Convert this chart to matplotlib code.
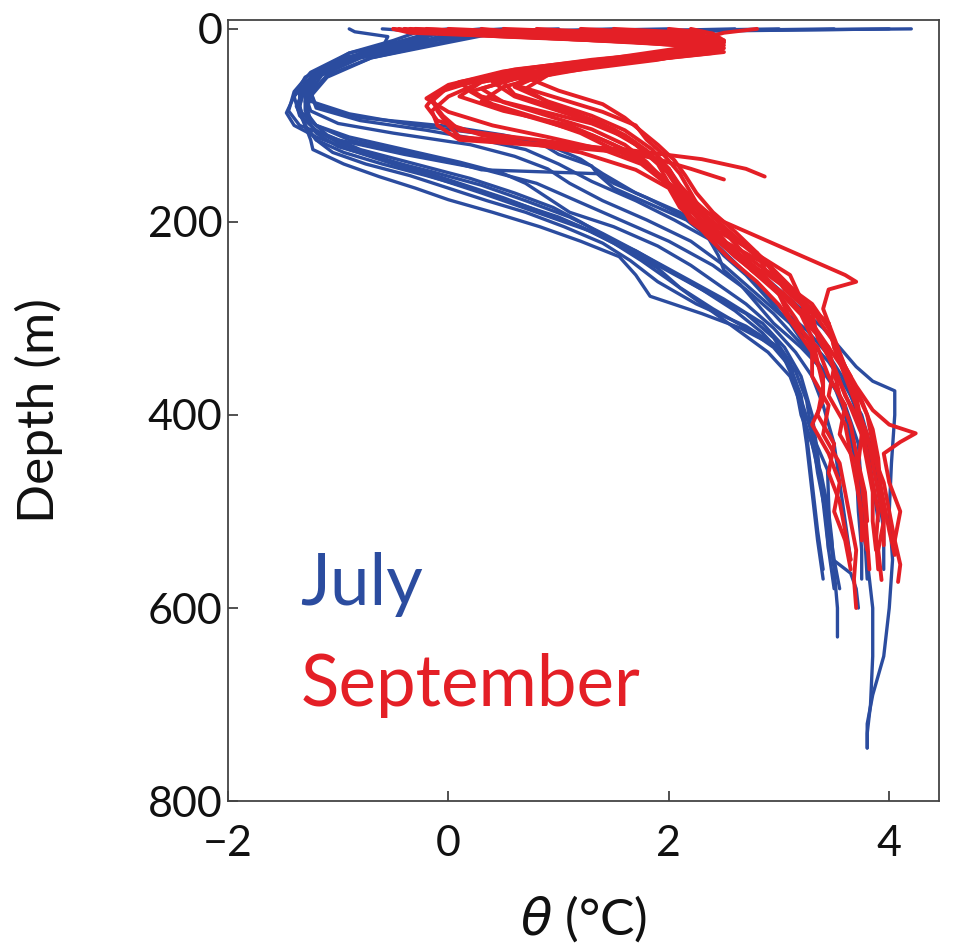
import matplotlib
matplotlib.use("Agg")
import matplotlib.pyplot as plt

# ---------------- data: July profiles (depth m, potential temperature degC) ----------------
july_depth = [
    [0, 2, 6, 15, 30, 45, 60, 75, 88, 100, 110, 120, 135, 150, 170, 190, 210, 230, 250, 270, 290, 310, 330, 350, 365, 375, 400, 450, 500, 550, 600, 650, 690, 720, 745],
    [0, 4, 12, 25, 45, 65, 85, 100, 115, 130, 145, 160, 180, 200, 220, 245, 270, 295, 320, 345, 370, 400, 450, 500, 550, 600, 650, 700, 730, 745],
    [0, 3, 8, 20, 40, 60, 80, 100, 115, 125, 140, 153, 165, 177, 190, 205, 220, 236, 255, 277, 295, 310, 319, 330, 355, 384, 420, 457, 490, 523, 560, 600, 630],
    [0, 6, 15, 30, 50, 75, 95, 110, 125, 140, 155, 170, 185, 200, 220, 245, 270, 295, 320, 345, 370, 400, 430, 460, 500, 530, 550, 564, 580, 600],
    [0, 5, 15, 30, 50, 70, 87, 100, 112, 125, 140, 155, 170, 190, 210, 230, 255, 280, 305, 330, 360, 400, 440, 490, 540, 580],
    [0, 5, 15, 30, 48, 65, 80, 92, 101, 110, 118, 130, 142, 150, 160, 175, 198, 215, 235, 250, 265, 285, 305, 330, 360, 390, 430, 480, 530, 570],
    [0, 4, 12, 25, 45, 65, 85, 100, 115, 130, 140, 146, 150, 165, 180, 198, 215, 235, 255, 280, 305, 330, 355, 380, 410, 450, 500, 540, 570],
    [0, 5, 15, 35, 55, 80, 100, 115, 128, 140, 152, 165, 180, 195, 210, 228, 248, 268, 290, 310, 330, 350, 380, 420, 470, 520, 560],
    [0, 3, 10, 25, 45, 65, 85, 100, 112, 125, 138, 150, 160, 175, 190, 205, 225, 245, 265, 285, 310, 335, 360, 390, 430, 470, 510, 550],
    [0, 5, 15, 30, 50, 70, 90, 105, 118, 130, 145, 160, 175, 190, 205, 222, 240, 260, 285, 310, 335, 360, 390, 430, 480, 530, 570],
    [0, 4, 12, 28, 48, 68, 85, 98, 108, 120, 132, 145, 160, 178, 198, 220, 245, 270, 295, 320, 345, 370, 400, 440, 480, 520, 560],
    [0, 5, 15, 30, 50, 70, 90, 108, 122, 135, 148, 162, 178, 195, 212, 230, 250, 270, 292, 315, 340, 365, 395, 430, 470, 510, 550, 580],
    [0, 3, 10, 22, 40, 60, 80, 100, 115, 128, 140, 152, 165, 178, 190, 205, 222, 240, 262, 285, 308, 330, 355, 385, 420, 460, 500, 540],
    [0, 5, 14, 30, 48, 66, 82, 95, 105, 115, 125, 140, 158, 178, 198, 220, 242, 265, 288, 312, 338, 365, 395, 430, 470, 510],
]
july_temp = [
    [4.2, 2.0, 0.2, -0.3, -0.9, -1.2, -1.3, -1.25, -0.9, -0.3, 0.4, 0.9, 1.2, 1.4, 1.7, 2.1, 2.4, 2.6, 2.8, 3.0, 3.2, 3.4, 3.55, 3.7, 3.85, 4.05, 4.05, 4.02, 4.0, 4.03, 4.0, 3.95, 3.85, 3.8, 3.8],
    [0.5, -0.1, -0.4, -0.9, -1.25, -1.4, -1.45, -1.35, -1.0, -0.4, 0.3, 0.8, 1.2, 1.6, 2.0, 2.4, 2.7, 2.95, 3.15, 3.35, 3.5, 3.6, 3.7, 3.75, 3.8, 3.85, 3.85, 3.83, 3.8, 3.8],
    [-0.9, -0.85, -0.55, -0.6, -1.1, -1.3, -1.38, -1.3, -1.25, -1.23, -0.95, -0.63, -0.3, 0.0, 0.4, 0.83, 1.2, 1.55, 1.7, 1.83, 2.3, 2.65, 2.8, 3.0, 3.1, 3.2, 3.3, 3.44, 3.45, 3.46, 3.5, 3.53, 3.53],
    [2.6, 0.3, -0.1, -0.8, -1.2, -1.3, -1.25, -1.1, -0.8, -0.3, 0.2, 0.6, 0.95, 1.2, 1.5, 1.9, 2.3, 2.7, 2.95, 3.1, 3.15, 3.2, 3.3, 3.38, 3.45, 3.48, 3.49, 3.65, 3.7, 3.72],
    [1.5, 0.0, -0.3, -0.9, -1.25, -1.4, -1.47, -1.4, -1.2, -0.9, -0.5, -0.1, 0.3, 0.8, 1.3, 1.7, 2.1, 2.5, 2.85, 3.05, 3.2, 3.3, 3.35, 3.4, 3.45, 3.5],
    [3.5, 0.1, -0.2, -0.8, -1.15, -1.25, -1.2, -0.8, 0.0, 0.5, 0.83, 1.0, 1.3, 1.35, 1.5, 1.8, 2.2, 2.35, 2.45, 2.5, 2.65, 2.8, 2.95, 3.2, 3.45, 3.6, 3.72, 3.75, 3.78, 3.8],
    [0.0, -0.3, -0.5, -0.9, -1.2, -1.35, -1.35, -1.2, -0.9, -0.3, 0.1, 0.3, 1.35, 1.5, 1.8, 2.16, 2.35, 2.5, 2.7, 2.9, 3.1, 3.25, 3.4, 3.55, 3.65, 3.7, 3.72, 3.75, 3.75],
    [0.3, -0.2, -0.5, -1.0, -1.3, -1.35, -1.3, -1.2, -0.95, -0.6, -0.2, 0.2, 0.6, 1.0, 1.3, 1.6, 1.9, 2.1, 2.4, 2.7, 2.95, 3.1, 3.2, 3.25, 3.3, 3.35, 3.4],
    [-0.6, -0.2, -0.3, -0.8, -1.15, -1.3, -1.3, -1.2, -0.9, -0.4, 0.1, 0.5, 0.7, 0.9, 1.1, 1.5, 1.9, 2.2, 2.45, 2.7, 2.95, 3.15, 3.3, 3.4, 3.5, 3.55, 3.6, 3.65],
    [1.0, -0.1, -0.4, -0.95, -1.3, -1.4, -1.35, -1.2, -1.0, -0.7, -0.3, 0.1, 0.5, 0.85, 1.2, 1.5, 1.75, 2.0, 2.3, 2.6, 2.9, 3.1, 3.2, 3.25, 3.3, 3.35, 3.4],
    [2.0, 0.2, -0.2, -0.8, -1.2, -1.3, -1.25, -1.0, -0.5, 0.2, 0.6, 0.9, 1.1, 1.4, 1.8, 2.2, 2.5, 2.75, 3.0, 3.25, 3.45, 3.6, 3.75, 3.85, 3.9, 3.95, 3.95],
    [3.0, 0.2, -0.1, -0.7, -1.1, -1.25, -1.3, -1.2, -1.0, -0.6, -0.15, 0.3, 0.7, 1.1, 1.4, 1.7, 2.0, 2.3, 2.6, 2.85, 3.05, 3.15, 3.2, 3.3, 3.38, 3.45, 3.5, 3.55],
    [-0.4, -0.3, -0.2, -0.7, -1.1, -1.3, -1.35, -1.3, -1.2, -1.05, -0.75, -0.35, 0.0, 0.35, 0.7, 1.05, 1.4, 1.65, 1.9, 2.25, 2.7, 3.0, 3.15, 3.25, 3.3, 3.35, 3.42, 3.45],
    [4.0, 0.4, 0.0, -0.7, -1.1, -1.25, -1.2, -0.8, -0.2, 0.3, 0.7, 1.0, 1.3, 1.7, 2.05, 2.4, 2.6, 2.8, 3.0, 3.25, 3.45, 3.6, 3.7, 3.8, 3.85, 3.9],
]

# ---------------- data: September profiles ----------------
sept_depth = [
    [0, 4, 10, 18, 28, 40, 55, 70, 85, 100, 112, 118, 125, 135, 145, 153],
    [0, 5, 12, 20, 30, 45, 60, 75, 90, 105, 115, 125, 135, 145, 156],
    [0, 3, 10, 18, 28, 40, 55, 70, 85, 100, 120, 140, 160, 180, 200, 225, 250, 275, 300, 330, 360, 390, 420, 450, 480, 510, 540, 570, 600],
    [0, 4, 12, 20, 30, 45, 60, 75, 90, 105, 125, 145, 165, 185, 205, 230, 255, 280, 305, 330, 360, 390, 420, 450, 480, 510, 540, 571],
    [0, 5, 12, 20, 32, 45, 60, 75, 90, 110, 130, 150, 170, 190, 210, 235, 260, 285, 310, 340, 370, 395, 410, 419, 428, 440, 470, 500, 530, 555, 573],
    [0, 4, 10, 18, 28, 40, 55, 70, 85, 100, 120, 140, 160, 180, 200, 220, 240, 255, 262, 270, 290, 320, 350, 380, 410, 440, 470, 500, 530, 560],
    [0, 3, 8, 15, 25, 38, 52, 66, 80, 95, 110, 128, 146, 165, 185, 205, 228, 250, 275, 300, 330, 360, 390, 420, 450, 480, 510, 540],
    [0, 5, 14, 22, 32, 45, 58, 72, 86, 100, 115, 130, 150, 170, 190, 210, 232, 255, 280, 305, 330, 355, 380, 410, 440, 470, 500, 530, 560],
    [0, 4, 10, 17, 26, 38, 52, 65, 78, 92, 108, 125, 140, 160, 180, 200, 220, 245, 270, 295, 320, 350, 380, 410, 440, 470, 500, 530],
    [0, 3, 10, 18, 28, 40, 55, 70, 85, 100, 115, 122, 130, 145, 165, 185, 205, 225, 250, 275, 300, 325, 350, 380, 410, 440, 470, 500, 530],
    [0, 5, 12, 20, 30, 42, 56, 70, 84, 98, 112, 128, 145, 162, 180, 200, 220, 240, 260, 280, 305, 330, 360, 390, 420, 450, 480, 510],
    [0, 4, 9, 16, 25, 36, 48, 62, 76, 90, 104, 118, 134, 150, 168, 186, 205, 225, 248, 272, 296, 320, 345, 370, 400, 430, 460, 490, 520, 550],
    [0, 3, 8, 14, 22, 32, 44, 58, 72, 86, 100, 112, 125, 140, 158, 176, 195, 215, 236, 258, 280, 305, 330, 355, 385, 415, 445, 475, 505, 535],
    [0, 4, 10, 18, 27, 38, 50, 64, 78, 92, 106, 120, 136, 152, 170, 190, 210, 232, 255, 278, 300, 325, 350, 375, 400, 430, 460, 490, 520, 545],
    [0, 3, 9, 16, 24, 35, 48, 62, 76, 90, 104, 120, 138, 156, 175, 195, 215, 238, 262, 286, 310, 335, 360, 385, 410, 440, 470, 500, 530, 560],
    [0, 5, 12, 20, 30, 42, 55, 68, 82, 96, 110, 126, 142, 160, 180, 200, 222, 245, 268, 292, 316, 340, 365, 392, 420, 450, 480, 510, 540],
]
sept_temp = [
    [-0.5, -0.35, 1.0, 2.3, 1.8, 0.8, 0.1, -0.15, -0.1, 0.0, 0.1, 0.7, 1.6, 2.3, 2.7, 2.87],
    [0.3, 0.8, 2.0, 2.5, 2.0, 0.7, 0.0, -0.15, -0.05, 0.1, 0.8, 1.5, 1.9, 2.2, 2.5],
    [-0.3, 0.5, 1.8, 2.4, 2.0, 1.0, 0.4, 0.6, 1.0, 1.4, 1.7, 1.9, 2.0, 2.1, 2.2, 2.5, 2.8, 3.0, 3.15, 3.3, 3.3, 3.45, 3.4, 3.55, 3.6, 3.65, 3.7, 3.68, 3.7],
    [1.5, 2.2, 2.5, 2.3, 1.7, 0.9, 0.6, 0.9, 1.3, 1.6, 1.85, 2.0, 2.1, 2.3, 2.5, 2.75, 3.1, 3.2, 3.45, 3.5, 3.6, 3.7, 3.8, 3.85, 3.9, 3.95, 3.9, 3.93],
    [-0.4, 0.2, 1.5, 2.4, 1.9, 1.0, 0.5, 0.3, 0.7, 1.3, 1.7, 1.9, 2.1, 2.3, 2.5, 2.7, 3.0, 3.3, 3.45, 3.55, 3.7, 3.85, 4.0, 4.24, 4.1, 3.95, 4.0, 4.1, 4.05, 4.1, 4.08],
    [2.8, 2.5, 2.3, 2.4, 2.0, 1.0, 0.3, 0.1, 0.5, 1.1, 1.5, 1.8, 2.0, 2.2, 2.5, 2.9, 3.3, 3.6, 3.7, 3.45, 3.4, 3.5, 3.6, 3.7, 3.75, 3.8, 3.85, 3.9, 3.88, 3.9],
    [-0.45, -0.3, 0.5, 2.0, 2.3, 1.2, 0.3, -0.1, -0.2, -0.1, 0.3, 1.2, 1.7, 2.0, 2.1, 2.3, 2.6, 2.75, 3.0, 3.1, 3.35, 3.45, 3.6, 3.55, 3.7, 3.72, 3.75, 3.8],
    [0.8, 1.6, 2.5, 2.3, 1.6, 0.8, 0.6, 1.0, 1.4, 1.7, 1.8, 1.95, 2.1, 2.2, 2.3, 2.45, 2.8, 2.9, 3.2, 3.25, 3.45, 3.5, 3.55, 3.65, 3.7, 3.75, 3.78, 3.8, 3.82],
    [-0.35, 0.2, 1.6, 2.5, 2.2, 1.3, 0.6, 0.2, 0.4, 0.8, 1.2, 1.5, 1.8, 2.0, 2.15, 2.3, 2.5, 2.9, 3.05, 3.3, 3.35, 3.5, 3.45, 3.6, 3.65, 3.7, 3.75, 3.75],
    [0.0, 0.6, 2.0, 2.4, 1.9, 1.0, 0.3, 0.0, -0.15, -0.1, 0.1, 1.0, 1.8, 2.0, 2.1, 2.2, 2.35, 2.5, 2.75, 3.05, 3.25, 3.4, 3.5, 3.6, 3.75, 3.85, 3.95, 4.0, 4.05],
    [2.2, 2.4, 2.3, 2.1, 1.5, 0.6, 0.1, 0.3, 0.8, 1.3, 1.6, 1.8, 2.0, 2.1, 2.2, 2.35, 2.5, 2.65, 3.0, 3.15, 3.45, 3.5, 3.65, 3.7, 3.75, 3.72, 3.78, 3.8],
    [-0.2, 0.4, 1.3, 2.2, 2.4, 1.5, 0.9, 0.7, 0.9, 1.2, 1.5, 1.7, 1.85, 2.0, 2.15, 2.3, 2.4, 2.55, 2.8, 3.0, 3.2, 3.3, 3.35, 3.4, 3.35, 3.5, 3.45, 3.55, 3.6, 3.65],
    [0.5, 1.2, 2.1, 2.5, 2.2, 1.3, 0.5, 0.0, -0.2, 0.0, 0.4, 0.9, 1.4, 1.75, 1.95, 2.1, 2.25, 2.4, 2.6, 2.85, 3.1, 3.3, 3.45, 3.6, 3.75, 3.85, 3.9, 3.92, 3.95, 3.95],
    [1.2, 1.9, 2.45, 2.3, 1.8, 1.0, 0.7, 1.0, 1.4, 1.6, 1.75, 1.9, 2.05, 2.15, 2.25, 2.4, 2.6, 2.8, 3.0, 3.2, 3.35, 3.5, 3.6, 3.7, 3.8, 3.85, 3.9, 3.95, 4.0, 4.05],
    [-0.5, -0.3, 0.8, 2.1, 2.5, 1.6, 0.7, 0.3, 0.5, 0.9, 1.3, 1.6, 1.8, 1.95, 2.1, 2.2, 2.35, 2.55, 2.8, 3.0, 3.15, 3.3, 3.4, 3.4, 3.3, 3.45, 3.55, 3.5, 3.6, 3.65],
    [2.0, 2.4, 2.5, 2.2, 1.6, 0.9, 0.5, 0.6, 1.0, 1.35, 1.6, 1.8, 1.95, 2.05, 2.2, 2.4, 2.65, 2.9, 3.1, 3.25, 3.35, 3.45, 3.55, 3.65, 3.75, 3.8, 3.85, 3.85, 3.88],
]

x_ticks = [-2, 0, 2, 4]
x_tick_labels = ["\u22122", "0", "2", "4"]
y_ticks = [0, 200, 400, 600, 800]
labels = ["July", "September"]

JULY_COLOR = "#2b4c9f"
SEPT_COLOR = "#e41f26"

plt.rcParams["font.family"] = ["Lato", "DejaVu Sans"]

fig = plt.figure(figsize=(9.58, 9.48), dpi=100)
ax = fig.add_axes([0.238, 0.155, 0.742, 0.824])

for d, t in zip(july_depth, july_temp):
    ax.plot(t, d, color=JULY_COLOR, lw=2.4, solid_joinstyle="round", solid_capstyle="round")
for d, t in zip(sept_depth, sept_temp):
    ax.plot(t, d, color=SEPT_COLOR, lw=2.8, solid_joinstyle="round", solid_capstyle="round")

ax.set_xlim(-2, 4.45)
ax.set_ylim(800, -9.3)
ax.set_xticks(x_ticks)
ax.set_yticks(y_ticks)
ax.set_xticklabels(x_tick_labels)
ax.tick_params(direction="in", length=7, width=1.2, colors="#333333", labelsize=31,
               labelcolor="#111111")
ax.tick_params(axis="x", pad=17)
ax.tick_params(axis="y", pad=4)
for s in ax.spines.values():
    s.set_color("#444444")
    s.set_linewidth(1.3)

ax.set_ylabel("Depth (m)", fontsize=37, color="#111111")
ax.yaxis.set_label_coords(-0.232, 0.5)
ax.set_xlabel(r"$\it{\theta}$ (°C)", fontsize=37, color="#111111")
ax.xaxis.set_label_coords(0.5, -0.118)

ax.text(-1.345, 597, labels[0], color=JULY_COLOR, fontsize=51, ha="left", va="baseline")
ax.text(-1.34, 702, labels[1], color=SEPT_COLOR, fontsize=51, ha="left", va="baseline")

fig.savefig("out.png", dpi=100)
